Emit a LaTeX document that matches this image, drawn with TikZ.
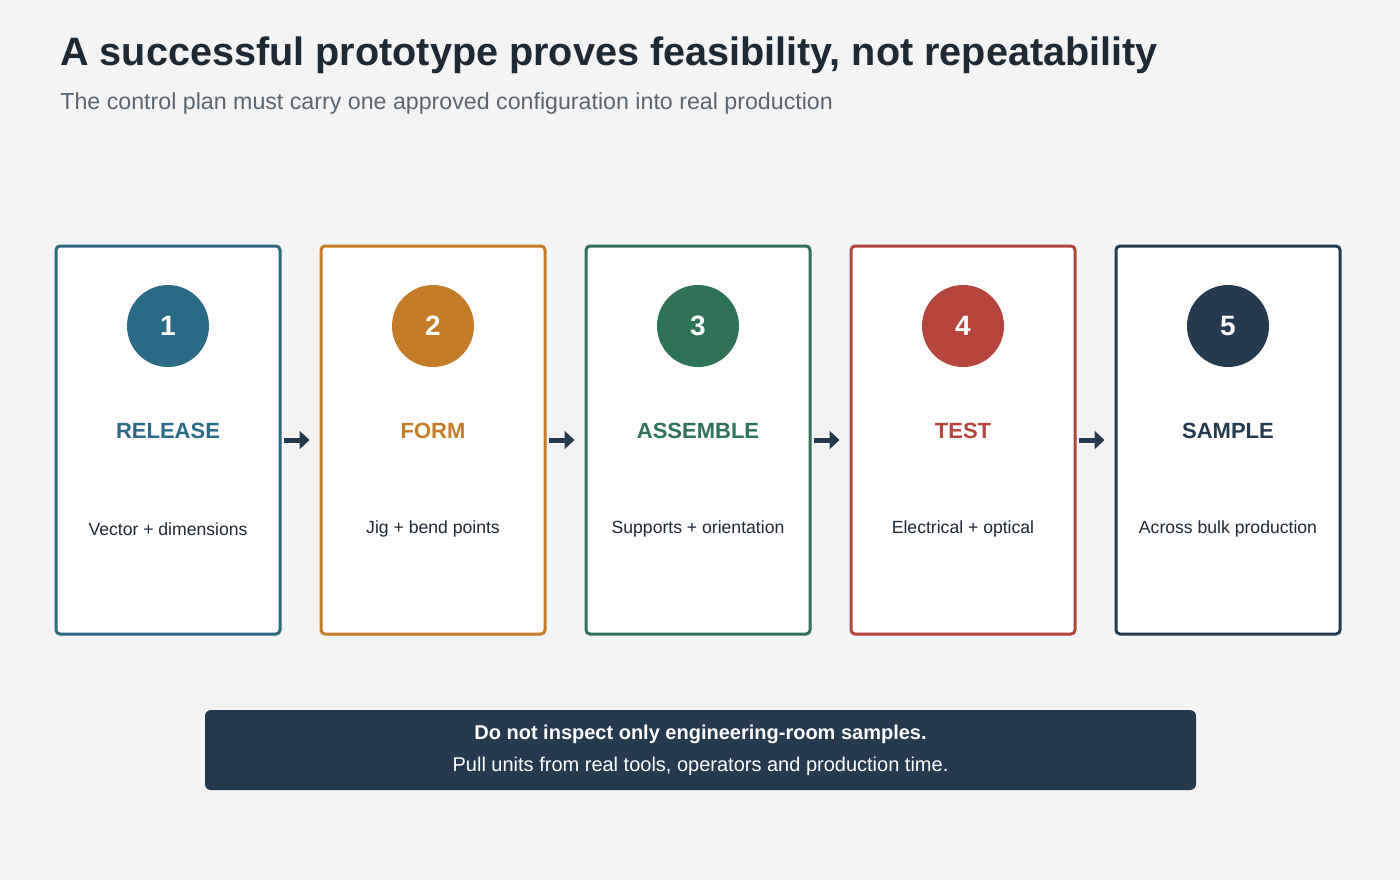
\documentclass[tikz,border=0pt]{standalone}
\usepackage{fontspec}
\setmainfont{Liberation Sans}
\usetikzlibrary{positioning,arrows.meta}
\definecolor{bg}{HTML}{F3F4F3}
\definecolor{ink}{HTML}{1F2933}
\definecolor{grey}{HTML}{5A6570}
\definecolor{cblue}{HTML}{2A6A86}
\definecolor{corange}{HTML}{C47C28}
\definecolor{cgreen}{HTML}{2E7358}
\definecolor{cred}{HTML}{B5443D}
\definecolor{cnavy}{HTML}{253A4E}
\tikzset{
	step/.style   = {draw=#1, line width=1.5pt, fill=white, rounded corners=2pt,
		minimum width=112pt, minimum height=194pt},
	badge/.style  = {circle, fill=#1, minimum size=41pt, text=white,
		font=\fontsize{14}{16}\selectfont\bfseries},
	head/.style   = {text=#1, font=\fontsize{11}{13}\selectfont\bfseries},
	body/.style   = {text=ink, font=\fontsize{8.8}{11}\selectfont},
	link/.style   = {-{Triangle[length=5pt,width=9pt]}, line width=2.5pt, draw=cnavy}
}
\begin{document}
\begin{tikzpicture}[x=0.5pt, y=-0.5pt]
	\fill[bg] (0,0) rectangle (1400,880);
	\useasboundingbox (0,0) rectangle (1400,880);

	\node[anchor=base west, inner sep=0pt, text=ink, font=\fontsize{19.8}{22}\selectfont\bfseries] (title) at (60,65)
		{A successful prototype proves feasibility, not repeatability};
	\node[anchor=base west, inner sep=0pt, text=grey, font=\fontsize{11.6}{14}\selectfont] (sub) at (60,109)
		{The control plan must carry one approved configuration into real production};

	\foreach \i/\c/\lab/\txt in {1/cblue/RELEASE/Vector + dimensions,
		2/corange/FORM/Jig + bend points,
		3/cgreen/ASSEMBLE/Supports + orientation,
		4/cred/TEST/Electrical + optical,
		5/cnavy/SAMPLE/Across bulk production}{
		\node[step=\c] (b\i) at ({168+265*(\i-1)},440) {};
		\node[badge=\c] (n\i) at ({168+265*(\i-1)},326) {\i};
		\node[head=\c] (h\i) at ({168+265*(\i-1)},431) {\lab};
		\node[body] (t\i) at ({168+265*(\i-1)},529) {\txt};
	}
	\foreach \i [evaluate=\i as \j using int(\i+1)] in {1,...,4}
		\draw[link] ([xshift=1pt]b\i.east) -- ([xshift=-5pt]b\j.west);

	\node[fill=cnavy, rounded corners=3pt, minimum width=495.5pt, minimum height=40pt,
		text=white, align=center, font=\fontsize{10}{16}\selectfont] (note) at (700.5,750)
		{\textbf{Do not inspect only engineering-room samples.}\\Pull units from real tools, operators and production time.};
\end{tikzpicture}
\end{document}
